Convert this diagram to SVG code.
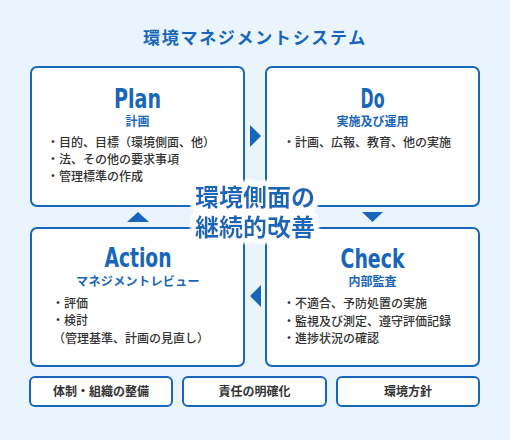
<svg xmlns="http://www.w3.org/2000/svg" width="510" height="440" viewBox="0 0 510 440">
<defs>
<style>
.box{fill:#fff;stroke:#1766b9;stroke-width:2}
.sbox{fill:#fff;stroke:#1766b9;stroke-width:2}
.jp{font-family:"Noto Sans CJK JP","Noto Sans CJK SC",sans-serif}
.title{font-size:17px;font-weight:bold;fill:#1766b9;letter-spacing:1.7px}
.head{font-family:"DejaVu Sans Condensed","DejaVu Sans",sans-serif;font-stretch:condensed;font-weight:bold;font-size:26px;fill:#1766b9}
.sub{font-family:"Noto Sans CJK JP","Noto Sans CJK SC",sans-serif;font-stretch:normal;font-size:12px;font-weight:bold;fill:#1766b9}
.item{font-size:12px;fill:#333;font-weight:500}
.foot{font-size:12px;fill:#333;font-weight:bold}
.arr{fill:#1766b9}
.center{font-size:24px;font-weight:bold;fill:#1766b9}
</style>
<filter id="halo" x="-15%" y="-40%" width="130%" height="180%">
<feMorphology in="SourceAlpha" operator="dilate" radius="3.5" result="d"/>
<feGaussianBlur in="d" stdDeviation="1.8" result="b"/>
<feFlood flood-color="#ffffff"/>
<feComposite in2="b" operator="in" result="w"/>
<feMerge><feMergeNode in="w"/><feMergeNode in="w"/><feMergeNode in="w"/><feMergeNode in="SourceGraphic"/></feMerge>
</filter>
</defs>
<rect width="510" height="440" fill="#eaf4fd"/>
<text class="jp title" x="255" y="44" text-anchor="middle">環境マネジメントシステム</text>

<g id="plan">
<rect class="box" x="31" y="67" width="213" height="139" rx="6"/>
<text class="head" text-anchor="middle"><tspan x="137.5" y="108" textLength="47" lengthAdjust="spacingAndGlyphs">Plan</tspan><tspan class="sub" x="137.5" y="125.5">計画</tspan></text>
<text class="jp item" x="47" y="147">・目的、目標（環境側面、他）</text>
<text class="jp item" x="47" y="164">・法、その他の要求事項</text>
<text class="jp item" x="47" y="181">・管理標準の作成</text>
</g>

<g id="do">
<rect class="box" x="266" y="67" width="213" height="139" rx="6"/>
<text class="head" text-anchor="middle"><tspan x="372.5" y="108" textLength="24" lengthAdjust="spacingAndGlyphs">Do</tspan><tspan class="sub" x="372.5" y="125.5">実施及び運用</tspan></text>
<text class="jp item" x="283" y="147">・計画、広報、教育、他の実施</text>
</g>

<g id="action">
<rect class="box" x="31" y="228" width="213" height="138" rx="6"/>
<text class="head" text-anchor="middle"><tspan x="138" y="267" textLength="67" lengthAdjust="spacingAndGlyphs">Action</tspan><tspan class="sub" x="138" y="286" style="letter-spacing:0.4px">マネジメントレビュー</tspan></text>
<text class="jp item" x="52" y="308">・評価</text>
<text class="jp item" x="52" y="325">・検討</text>
<text class="jp item" x="53" y="343">（管理基準、計画の見直し）</text>
</g>

<g id="check">
<rect class="box" x="266" y="228" width="213" height="138" rx="6"/>
<text class="head" text-anchor="middle"><tspan x="372.5" y="268" textLength="64" lengthAdjust="spacingAndGlyphs">Check</tspan><tspan class="sub" x="372.5" y="286">内部監査</tspan></text>
<text class="jp item" x="283" y="308">・不適合、予防処置の実施</text>
<text class="jp item" x="283" y="325.5">・監視及び測定、遵守評価記録</text>
<text class="jp item" x="283" y="343">・進捗状況の確認</text>
</g>

<g id="connectors">
<polygon class="arr" points="250,125 261,136 250,147"/>
<polygon class="arr" points="362,212 383,212 372.5,222"/>
<polygon class="arr" points="261,285 250,296 261,307"/>
<polygon class="arr" points="127,222 138,212 149,222"/>
</g>

<g id="center" filter="url(#halo)">
<text class="jp center" text-anchor="middle"><tspan x="255" y="206">環境側面の</tspan><tspan x="255" y="236">継続的改善</tspan></text>
</g>

<g id="taisei">
<rect class="sbox" x="30" y="377" width="142" height="29" rx="5"/>
<text class="jp foot" x="101" y="396" text-anchor="middle">体制・組織の整備</text>
</g>
<g id="sekinin">
<rect class="sbox" x="183" y="377" width="143" height="29" rx="5"/>
<text class="jp foot" x="254.5" y="396" text-anchor="middle">責任の明確化</text>
</g>
<g id="houshin">
<rect class="sbox" x="337" y="377" width="142" height="29" rx="5"/>
<text class="jp foot" x="408" y="396" text-anchor="middle">環境方針</text>
</g>
</svg>
